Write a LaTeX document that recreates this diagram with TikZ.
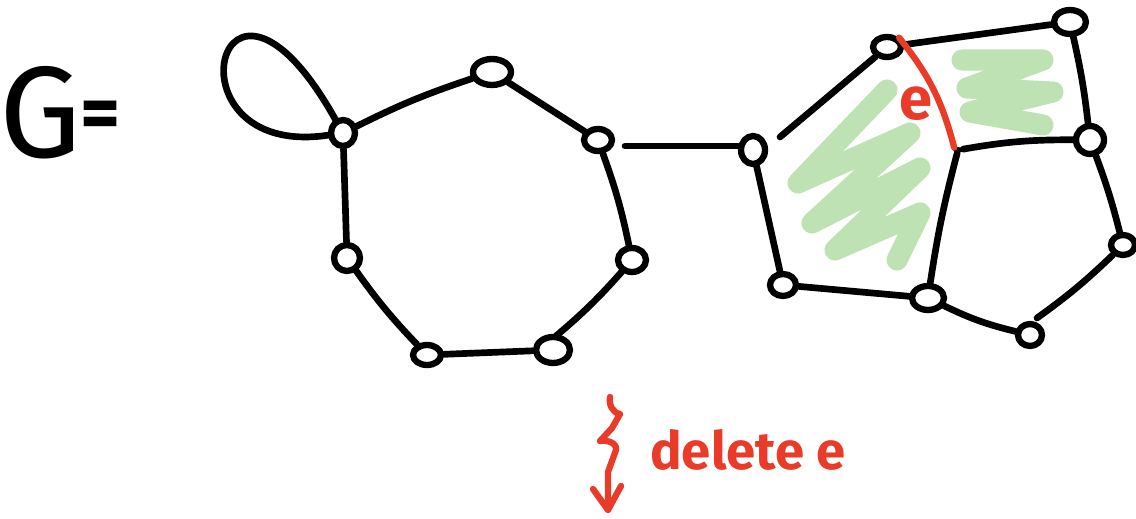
\documentclass[tikz,border=0pt]{standalone}
\usepackage{fontspec}
\setmainfont{Fira Sans}
\usetikzlibrary{shapes.geometric}
\definecolor{ink}{RGB}{0,0,0}
\definecolor{pen}{RGB}{234,58,40}
\definecolor{hl}{RGB}{190,226,180}
\begin{document}
\begin{tikzpicture}[x=0.02cm,y=-0.02cm,line cap=round,line join=round,
  vtx/.style={draw=ink,ellipse,line width=3.6pt,inner sep=0pt},
  edgeline/.style={draw=ink,line width=3.8pt},
  rededge/.style={draw=pen,line width=3.6pt},
  scribble/.style={draw=hl,line width=12pt},
  handtext/.style={text=pen,inner sep=0pt}]
\useasboundingbox (0,0) rectangle (1136,519);

% green highlights
\draw[scribble] (887,90) -- (798,183) -- (910,133) -- (812,223) -- (920,168) -- (835,250) -- (920,213) -- (897,260);
\draw[scribble] (962,60) -- (1043,60) -- (967,88) -- (1053,92) -- (970,112) -- (1043,125);

% label G =
\node[inner sep=0pt,font=\fontsize{74}{80}\selectfont] (Glabel) at (41,113) {G};
\node[inner sep=0pt,font=\fontsize{44}{50}\selectfont\bfseries] (eqlabel) at (101,120) {=};

% left graph
\node[vtx,minimum width=0.48cm,minimum height=0.52cm] (A) at (343,133) {};
\node[vtx,minimum width=0.76cm,minimum height=0.52cm] (B) at (492,72) {};
\node[vtx,minimum width=0.56cm,minimum height=0.44cm] (C) at (598,140) {};
\node[vtx,minimum width=0.56cm,minimum height=0.48cm] (D) at (632,260) {};
\node[vtx,minimum width=0.68cm,minimum height=0.52cm] (E) at (553,350) {};
\node[vtx,minimum width=0.56cm,minimum height=0.40cm] (F) at (427,355) {};
\node[vtx,minimum width=0.52cm,minimum height=0.52cm] (G) at (347,258) {};

\draw[edgeline] (A) .. controls (160,160) and (219,-88) .. (A);
\draw[edgeline] (A) to[bend left=4] (B);
\draw[edgeline] (B) -- (C);
\draw[edgeline] (C) to[bend left=4] (D);
\coordinate (e1) at (556,336);
\draw[edgeline] (D) to[bend left=4] (e1);
\draw[edgeline] (E) -- (F);
\draw[edgeline] (F) to[bend left=4] (G);
\draw[edgeline] (G) -- (A);

% bridge
\coordinate (c1) at (625,146);
\coordinate (h2) at (738,146);
\draw[edgeline] (c1) -- (h2);

% right graph
\node[vtx,minimum width=0.48cm,minimum height=0.56cm] (H) at (753,150) {};
\node[vtx,minimum width=0.56cm,minimum height=0.40cm] (I) at (887,47) {};
\node[vtx,minimum width=0.64cm,minimum height=0.48cm] (J) at (1070,22) {};
\node[vtx,minimum width=0.56cm,minimum height=0.56cm] (K) at (1090,140) {};
\node[ellipse,fill=ink,inner sep=0pt,minimum width=0.2cm,minimum height=0.12cm] (L) at (958,150) {};
\node[vtx,minimum width=0.48cm,minimum height=0.40cm] (M) at (1123,245) {};
\node[vtx,minimum width=0.48cm,minimum height=0.44cm] (N) at (1030,335) {};
\node[vtx,minimum width=0.64cm,minimum height=0.48cm] (O) at (928,298) {};
\node[vtx,minimum width=0.52cm,minimum height=0.44cm] (P) at (783,285) {};

\coordinate (h1) at (780,137);
\draw[edgeline] (h1) -- (I);
\draw[edgeline] (I) -- (J);
\draw[edgeline] (J) to[bend left=3] (K);
\draw[edgeline] (K) to[bend right=5] (L);
\draw[edgeline] (L) to[bend right=3] (O);
\draw[edgeline] (O) -- (P);
\draw[edgeline] (P) -- (H);
\draw[edgeline] (K) to[bend left=3] (M);
\coordinate (n1) at (1037,318);
\draw[edgeline] (M) to[bend left=4] (n1);
\draw[edgeline] (N) to[bend left=6] (O);

\draw[rededge] (I.north east) to[bend left=12] (L.north west);
\node[handtext,font=\fontsize{34}{40}\selectfont\bfseries] (elabel) at (916,104) {e};

% delete e
\draw[draw=pen,line width=3.6pt] (610,397) to[out=-100,in=170] (620,414) -- (612,428) -- (600,441) to[out=10,in=80] (616,450) -- (608,472) -- (608,510);
\draw[draw=pen,line width=3.6pt] (593,489) -- (608,510) -- (621,486);
\node[handtext,anchor=base west,font=\fontsize{30}{36}\selectfont\bfseries] (del) at (650,470) {delete e};
\end{tikzpicture}
\end{document}
